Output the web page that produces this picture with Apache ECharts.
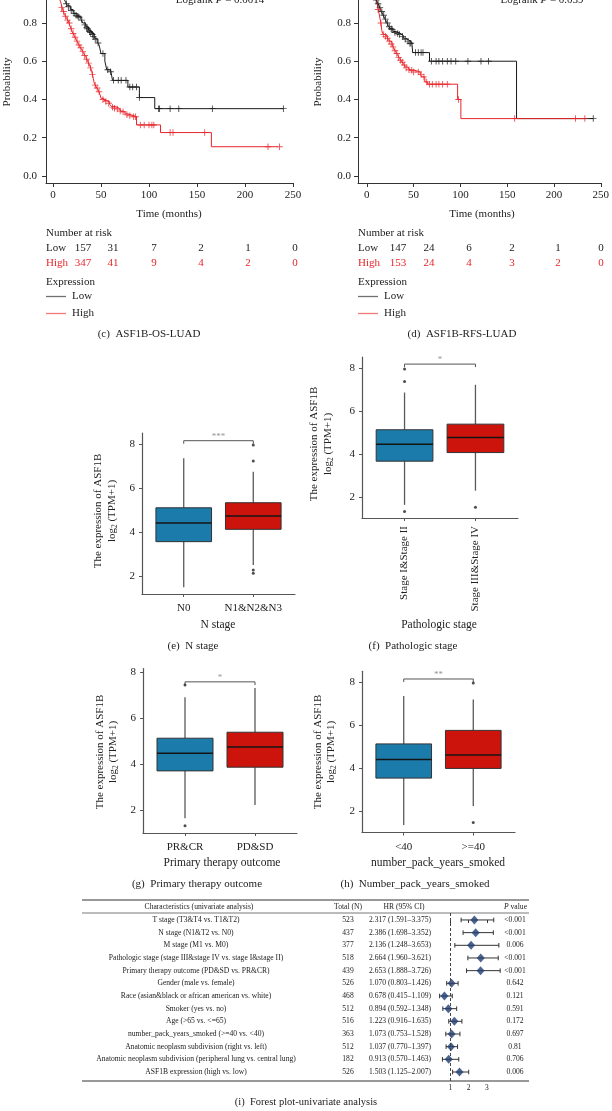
<!DOCTYPE html>
<html><head><meta charset="utf-8">
<script src="https://cdn.jsdelivr.net/npm/echarts@6/dist/echarts.min.js"></script>
<style>html,body{margin:0;padding:0;background:#fff}#c{width:612px;height:1111px}</style>
</head><body><div id="c"></div>
<script>
const FONT = '"Liberation Serif","Times New Roman",serif';

// ---------- Kaplan-Meier data (time in months, survival probability) ----------
const kmLowC = [[0,1],[3,0.99],[6,0.97],[9,0.95],[11,0.93],[13,0.91],[15,0.89],[18,0.87],[21,0.85],[25,0.835],[29,0.82],[31,0.80],[34,0.78],[37,0.76],[40,0.745],[43,0.72],[46,0.70],[48,0.685],[50,0.64],[54,0.60],[56,0.555],[60,0.545],[62,0.50],[78,0.465],[90,0.41],[106,0.352],[240,0.352]];
const censLowC = [[14,0.90],[16,0.885],[19,0.865],[22,0.85],[24,0.84],[26,0.835],[27,0.83],[30,0.815],[33,0.79],[35,0.775],[36,0.77],[38,0.755],[39,0.75],[41,0.74],[42,0.73],[44,0.715],[47,0.695],[52,0.64],[57,0.555],[60,0.545],[63,0.5],[68,0.5],[71,0.5],[76,0.5],[80,0.465],[83,0.465],[87,0.465],[90,0.41],[110,0.352],[111,0.352],[122,0.352],[131,0.352],[166,0.352],[240,0.352]];
const kmHighC = [[0,1],[2,0.98],[4,0.96],[6,0.935],[8,0.91],[10,0.87],[12,0.845],[14,0.825],[16,0.81],[18,0.78],[20,0.755],[22,0.735],[24,0.715],[26,0.695],[28,0.675],[30,0.66],[32,0.64],[34,0.625],[36,0.60],[38,0.58],[40,0.555],[42,0.51],[43,0.485],[45,0.465],[47,0.45],[49,0.425],[50,0.406],[53,0.395],[56,0.389],[59,0.375],[61,0.363],[65,0.354],[69,0.345],[71,0.336],[75,0.325],[78,0.319],[82,0.31],[87,0.267],[112,0.227],[165,0.153],[234,0.153]];
const censHighC = [[9,0.88],[11,0.86],[13,0.835],[15,0.815],[17,0.80],[19,0.77],[21,0.745],[23,0.725],[25,0.705],[27,0.685],[29,0.67],[31,0.65],[33,0.63],[35,0.61],[37,0.59],[39,0.565],[41,0.53],[44,0.475],[46,0.46],[48,0.44],[52,0.4],[55,0.39],[58,0.38],[62,0.36],[64,0.354],[67,0.35],[70,0.34],[73,0.336],[77,0.32],[80,0.315],[84,0.31],[86,0.31],[91,0.267],[95,0.267],[100,0.267],[103,0.267],[105,0.267],[122,0.227],[125,0.227],[158,0.227],[224,0.153],[236,0.153]];
const kmLowD = [[0,1],[3,0.99],[6,0.96],[9,0.93],[11,0.91],[13,0.89],[15,0.865],[17,0.845],[19,0.825],[21,0.805],[23,0.785],[25,0.77],[28,0.755],[32,0.745],[36,0.735],[39,0.72],[42,0.71],[45,0.70],[48,0.694],[49,0.645],[67,0.60],[160,0.30],[242,0.30]];
const censLowD = [[10,0.92],[12,0.9],[14,0.88],[16,0.86],[18,0.84],[20,0.82],[22,0.8],[24,0.78],[26,0.77],[27,0.765],[30,0.75],[33,0.745],[35,0.74],[38,0.73],[41,0.715],[44,0.705],[46,0.694],[47,0.694],[52,0.645],[55,0.645],[58,0.645],[60,0.645],[69,0.6],[74,0.6],[77,0.6],[81,0.6],[86,0.6],[90,0.6],[95,0.6],[108,0.6],[122,0.6],[130,0.6],[242,0.3]];
const kmHighD = [[0,1],[3,0.99],[6,0.97],[9,0.94],[11,0.90],[13,0.85],[14,0.825],[15,0.80],[16,0.76],[17,0.744],[19,0.735],[21,0.727],[23,0.71],[25,0.70],[27,0.685],[29,0.665],[31,0.649],[33,0.63],[35,0.614],[37,0.60],[39,0.588],[41,0.57],[44,0.56],[46,0.553],[51,0.544],[57,0.53],[59,0.518],[62,0.492],[65,0.48],[97,0.40],[100.5,0.30],[233,0.30]];
const censHighD = [[12,0.87],[15,0.80],[18,0.74],[20,0.73],[22,0.72],[24,0.705],[26,0.69],[28,0.675],[30,0.655],[32,0.64],[34,0.62],[36,0.605],[38,0.595],[40,0.58],[42,0.565],[45,0.555],[48,0.553],[50,0.544],[55,0.544],[58,0.53],[61,0.518],[64,0.492],[67,0.48],[70,0.48],[74,0.48],[77,0.48],[81,0.48],[86,0.48],[98,0.40],[158,0.30],[223,0.30],[233,0.30]];
const kmTicksX = [0,50,100,150,200,250];
const kmTicksY = [0,0.2,0.4,0.6,0.8];
const riskLowC = [157,31,7,2,1,0];
const riskHighC = [347,41,9,4,2,0];
const riskLowD = [147,24,6,2,1,0];
const riskHighD = [153,24,4,3,2,0];
const logrankC = '0.0014';
const logrankD = '0.039';

// ---------- Box plot data: [min, Q1, median, Q3, max] ----------
const boxTicksY = [2,4,6,8];
const eCats = ['N0','N1&N2&N3'];
const eStats = [[1.49,3.56,4.41,5.10,7.35],[2.50,4.12,4.73,5.33,6.74]];
const eOut = [[],[7.95,7.23,2.27,2.12]];
const eSig = '***', eBracket = 8.15;
const fCats = ['Stage I&Stage II','Stage III&Stage IV'];
const fStats = [[1.63,3.66,4.45,5.12,6.85],[2.29,4.06,4.76,5.38,7.21]];
const fOut = [[7.94,7.36,1.32],[1.52]];
const fSig = '*', fBracket = 8.17;
const gCats = ['PR&CR','PD&SD'];
const gStats = [[1.64,3.70,4.47,5.12,6.90],[2.22,3.86,4.74,5.38,7.30]];
const gOut = [[7.43,1.32],[]];
const gSig = '*', gBracket = 7.57;
const hCats = ['<40','>=40'];
const hStats = [[1.35,3.53,4.40,5.12,7.35],[2.23,3.98,4.61,5.75,7.19]];
const hOut = [[],[7.95,1.46]];
const hSig = '**', hBracket = 8.14;

// ---------- Forest plot data ----------
const forestNames = ['T stage (T3&T4 vs. T1&T2)','N stage (N1&T2 vs. N0)','M stage (M1 vs. M0)','Pathologic stage (stage III&stage IV vs. stage I&stage II)','Primary therapy outcome (PD&SD vs. PR&CR)','Gender (male vs. female)','Race (asian&black or african american vs. white)','Smoker (yes vs. no)','Age (>65 vs. <=65)','number_pack_years_smoked (>=40 vs. <40)','Anatomic neoplasm subdivision (right vs. left)','Anatomic neoplasm subdivision (peripheral lung vs. central lung)','ASF1B expression (high vs. low)'];
const forestN = [523,437,377,518,439,526,468,512,516,363,512,182,526];
const forestHR = [2.317,2.386,2.136,2.664,2.653,1.070,0.678,0.894,1.223,1.073,1.037,0.913,1.503];
const forestLo = [1.591,1.698,1.248,1.960,1.888,0.803,0.415,0.592,0.916,0.753,0.770,0.570,1.125];
const forestHi = [3.375,3.352,3.653,3.621,3.726,1.426,1.109,1.348,1.635,1.528,1.397,1.463,2.007];
const forestP = ['<0.001','<0.001','0.006','<0.001','<0.001','0.642','0.121','0.591','0.172','0.697','0.81','0.706','0.006'];
const forestTicks = [1,2,3];

// ---------- styles ----------
const RED = '#e8262b', BLACK = '#1a1a1a';
const boxColors = ['#1b7bab','#cc140c'];
const CROSS = 'path://M4.3,0H5.7V10H4.3Z M0,4.3H10V5.7H0Z';

const grids = [
  {left:46, top:0, width:247, height:183},
  {left:358, top:0, width:247, height:183},
  {left:142, top:433, width:153, height:161},
  {left:362, top:357, width:156, height:161},
  {left:143, top:668.5, width:154, height:164.5},
  {left:362, top:671.25, width:153, height:161.25},
  {left:432, top:913, width:91.5, height:168}
];

function kmX(gi, min){ return {type:'value', gridIndex:gi, min:min, max:250,
  axisLine:{show:true,onZero:false,lineStyle:{color:'#333',width:1}},
  axisTick:{show:true,customValues:kmTicksX,length:4,lineStyle:{color:'#333'}},
  axisLabel:{customValues:kmTicksX,fontFamily:FONT,fontSize:11,color:'#222',margin:7},
  splitLine:{show:false}}; }
function kmY(gi, margin){ return {type:'value', gridIndex:gi, min:-0.0366, max:0.92,
  axisLine:{show:true,onZero:false,lineStyle:{color:'#333',width:1}},
  axisTick:{show:true,customValues:kmTicksY,length:4,lineStyle:{color:'#333'}},
  axisLabel:{customValues:kmTicksY,formatter:v=>v.toFixed(1),fontFamily:FONT,fontSize:11,color:'#222',margin:margin},
  splitLine:{show:false}}; }
function boxX(gi, cats, rotate){ return {type:'value', gridIndex:gi, min:0.4, max:2.6,
  axisLine:{show:true,onZero:false,lineStyle:{color:'#555',width:1.2}},
  axisTick:{show:true,customValues:[1,2],length:3,lineStyle:{color:'#555'}},
  axisLabel:{customValues:[1,2],formatter:v=>cats[Math.round(v)-1],rotate:rotate,fontFamily:FONT,fontSize:11,color:'#222',margin:rotate?8:9},
  splitLine:{show:false}}; }
function boxY(gi, min, max){ return {type:'value', gridIndex:gi, min:min, max:max,
  axisLine:{show:true,onZero:false,lineStyle:{color:'#555',width:1.2}},
  axisTick:{show:true,customValues:boxTicksY,length:3,lineStyle:{color:'#555'}},
  axisLabel:{customValues:boxTicksY,fontFamily:FONT,fontSize:11,color:'#222',margin:7},
  splitLine:{show:false}}; }

const xAxes = [kmX(0,-7.3), kmX(1,-9.45), boxX(2,eCats,0), boxX(3,fCats,90), boxX(4,gCats,0), boxX(5,hCats,0),
  {type:'value',gridIndex:6,min:0,max:5,axisLine:{show:false},
   axisTick:{show:true,customValues:forestTicks,length:3,lineStyle:{color:'#333'}},
   axisLabel:{customValues:forestTicks,fontFamily:FONT,fontSize:7.5,color:'#222',margin:3},
   splitLine:{show:false}}];
const yAxes = [kmY(0,9), kmY(1,7), boxY(2,1.18,8.5), boxY(3,1.02,8.5), boxY(4,1.0,8.15), boxY(5,1.0,8.5),
  {type:'value',gridIndex:6,min:-0.55,max:12.71,inverse:true,show:false,splitLine:{show:false}}];

const series = [];
function kmSeries(gi, low, high, cLow, cHigh){
  series.push({type:'line',xAxisIndex:gi,yAxisIndex:gi,data:low,step:'end',symbol:'none',lineStyle:{color:BLACK,width:1},z:3});
  series.push({type:'line',xAxisIndex:gi,yAxisIndex:gi,data:high,step:'end',symbol:'none',lineStyle:{color:RED,width:1},z:3});
  series.push({type:'scatter',xAxisIndex:gi,yAxisIndex:gi,data:cLow,symbol:CROSS,symbolSize:6.5,itemStyle:{color:BLACK},z:4});
  series.push({type:'scatter',xAxisIndex:gi,yAxisIndex:gi,data:cHigh,symbol:CROSS,symbolSize:6.5,itemStyle:{color:RED},z:4});
}
kmSeries(0, kmLowC, kmHighC, censLowC, censHighC);
kmSeries(1, kmLowD, kmHighD, censLowD, censHighD);

function renderBox(params, api){
  const x = api.value(0);
  const lo = api.coord([x, api.value(1)]);
  const q1 = api.coord([x-0.4, api.value(2)]);
  const mL = api.coord([x-0.4, api.value(3)]);
  const mR = api.coord([x+0.4, api.value(3)]);
  const q3 = api.coord([x+0.4, api.value(4)]);
  const hi = api.coord([x, api.value(5)]);
  const fill = boxColors[params.dataIndex];
  return {type:'group', children:[
    {type:'line', shape:{x1:hi[0],y1:hi[1],x2:hi[0],y2:q3[1]}, style:{stroke:'#5a5a5a',lineWidth:1.3}},
    {type:'line', shape:{x1:lo[0],y1:lo[1],x2:lo[0],y2:q1[1]}, style:{stroke:'#5a5a5a',lineWidth:1.3}},
    {type:'rect', shape:{x:q1[0],y:q3[1],width:q3[0]-q1[0],height:q1[1]-q3[1]}, style:{fill:fill,stroke:'#333',lineWidth:1}},
    {type:'line', shape:{x1:mL[0],y1:mL[1],x2:mR[0],y2:mR[1]}, style:{stroke:'#141414',lineWidth:1.5}}
  ]};
}
function boxSeries(gi, stats, outs, sig, b){
  series.push({type:'custom',xAxisIndex:gi,yAxisIndex:gi,renderItem:renderBox,
    data:stats.map((s,i)=>[i+1].concat(s)),encode:{x:0,y:[1,2,3,4,5]},z:2});
  const od = [];
  outs.forEach((arr,i)=>arr.forEach(v=>od.push([i+1,v])));
  series.push({type:'scatter',xAxisIndex:gi,yAxisIndex:gi,data:od,symbolSize:3,itemStyle:{color:'#222'},z:3});
  series.push({type:'line',xAxisIndex:gi,yAxisIndex:gi,data:[[1,b-0.14],[1,b],[2,b],[2,b-0.14]],symbol:'none',lineStyle:{color:'#555',width:1},z:3});
  series.push({type:'scatter',xAxisIndex:gi,yAxisIndex:gi,data:[[1.5,b]],symbolSize:0,
    label:{show:true,formatter:sig,position:'top',distance:0,fontFamily:FONT,fontSize:9,color:'#777'},z:3});
}
boxSeries(2, eStats, eOut, eSig, eBracket);
boxSeries(3, fStats, fOut, fSig, fBracket);
boxSeries(4, gStats, gOut, gSig, gBracket);
boxSeries(5, hStats, hOut, hSig, hBracket);

// forest
series.push({type:'custom',xAxisIndex:6,yAxisIndex:6,
  data:forestLo.map((lo,i)=>[lo,forestHi[i],i]),encode:{x:[0,1],y:2},
  renderItem:(p,api)=>{
    const a = api.coord([api.value(0),api.value(2)]);
    const b = api.coord([api.value(1),api.value(2)]);
    const st = {stroke:'#333',lineWidth:1};
    return {type:'group',children:[
      {type:'line',shape:{x1:a[0],y1:a[1],x2:b[0],y2:b[1]},style:st},
      {type:'line',shape:{x1:a[0],y1:a[1]-2.3,x2:a[0],y2:a[1]+2.3},style:st},
      {type:'line',shape:{x1:b[0],y1:b[1]-2.3,x2:b[0],y2:b[1]+2.3},style:st}
    ]};
  },z:2});
series.push({type:'scatter',xAxisIndex:6,yAxisIndex:6,data:forestHR.map((h,i)=>[h,i]),
  symbol:'diamond',symbolSize:[8,9],itemStyle:{color:'#1e3c72'},z:3,
  markLine:{silent:true,symbol:['none','none'],label:{show:false},
    lineStyle:{type:[3,2],color:'#444',width:1},data:[{xAxis:1}]}});

// ---------- text graphics ----------
const G = [];
function txt(x, y, text, o){
  o = o || {};
  const style = {text:text, fill:o.color||'#222', fontFamily:FONT, fontSize:o.size||11,
    align:o.align||'left', verticalAlign:'middle', textAlign:o.align||'left', textVerticalAlign:'middle'};
  if (o.rich) style.rich = o.rich;
  if (o.italic) style.fontStyle = 'italic';
  G.push({type:'text', x:x, y:y, rotation:o.rot||0, silent:true, style:style});
}
function hline(x1, x2, y, color, w){
  G.push({type:'line', silent:true, shape:{x1:x1,y1:y,x2:x2,y2:y}, style:{stroke:color,lineWidth:w||1}});
}
const richBase = (s)=>({a:{fontFamily:FONT,fontSize:s,fill:'#222'}, i:{fontFamily:FONT,fontSize:s,fill:'#222',fontStyle:'italic'}});

// KM panels text
function kmText(ox, axisCx, capCx, probX, cols, low, high, lr, lrX, cap){
  txt(lrX, 0.5, '{a|Logrank }{i|P}{a| = '+lr+'}', {align:'center', rich:richBase(11)});
  txt(probX, 82, 'Probability', {align:'center', rot:Math.PI/2});
  txt(axisCx, 214, 'Time (months)', {align:'center'});
  txt(ox, 233, 'Number at risk');
  txt(ox, 248, 'Low');
  txt(ox, 263, 'High', {color:RED});
  low.forEach((v,i)=>txt(cols[i], 248, String(v), {align:'center'}));
  high.forEach((v,i)=>txt(cols[i], 263, String(v), {align:'center', color:RED}));
  txt(ox, 282, 'Expression');
  hline(ox, ox+20, 296.5, '#707070', 1.3);
  hline(ox, ox+20, 313.5, '#f07878', 1.3);
  txt(ox+26, 296, 'Low');
  txt(ox+26, 313, 'High');
  txt(capCx, 334, cap, {align:'center'});
}
kmText(46, 169, 149, 7, [83,113,154,201,248,295], riskLowC, riskHighC, logrankC, 220, '(c)  ASF1B-OS-LUAD');
kmText(358, 482, 462, 318, [398,429,469,512,558,601], riskLowD, riskHighD, logrankD, 542, '(d)  ASF1B-RFS-LUAD');

// Box panels text
const yRich = {a:{fontFamily:FONT,fontSize:11,fill:'#222',lineHeight:14},
               b:{fontFamily:FONT,fontSize:7.5,fill:'#222',lineHeight:6,verticalAlign:'bottom'}};
function boxText(x1, x2, cy, nameCx, nameY, name, capCx, capY, cap){
  txt(x1, cy, 'The expression of ASF1B', {align:'center', rot:Math.PI/2});
  txt(x2, cy, '{a|log}{b|2}{a| (TPM+1)}', {align:'center', rot:Math.PI/2, rich:yRich});
  txt(nameCx, nameY, name, {align:'center', size:11.5});
  txt(capCx, capY, cap, {align:'center'});
}
boxText(98, 112, 511, 218, 625, 'N stage', 193, 646, '(e)  N stage');
boxText(314, 328, 444, 439, 625, 'Pathologic stage', 413, 646, '(f)  Pathologic stage');
boxText(100, 113, 752, 222, 863, 'Primary therapy outcome', 197, 884, '(g)  Primary therapy outcome');
boxText(318, 331, 752, 438, 863, 'number_pack_years_smoked', 415, 884, '(h)  Number_pack_years_smoked');

// Forest table
const FS = 7.6;
hline(82, 529, 900, '#333', 1);
hline(82, 529, 913, '#555', 0.8);
hline(82, 529, 1081, '#333', 1);
txt(199, 907, 'Characteristics (univariate analysis)', {align:'center', size:FS});
txt(348, 907, 'Total (N)', {align:'center', size:FS});
txt(404, 907, 'HR (95% CI)', {align:'center', size:FS});
txt(527, 907, '{i|P}{a| value}', {align:'right', rich:richBase(FS)});
const rowStep = 152/12;
forestNames.forEach((n,i)=>{
  const y = 920 + i*rowStep;
  txt(196, y, n, {align:'center', size:FS});
  txt(348, y, String(forestN[i]), {align:'center', size:FS});
  txt(400, y, forestHR[i].toFixed(3)+' ('+forestLo[i].toFixed(3)+'\u2013'+forestHi[i].toFixed(3)+')', {align:'center', size:FS});
  txt(515, y, forestP[i], {align:'center', size:FS});
});
txt(306, 1102, '(i)  Forest plot-univariate analysis', {align:'center', size:10.5});

const chart = echarts.init(document.getElementById('c'), null, {renderer:'canvas'});
chart.setOption({
  animation:false, backgroundColor:'#fff',
  grid:grids, xAxis:xAxes, yAxis:yAxes, series:series, graphic:G
});
</script></body></html>
